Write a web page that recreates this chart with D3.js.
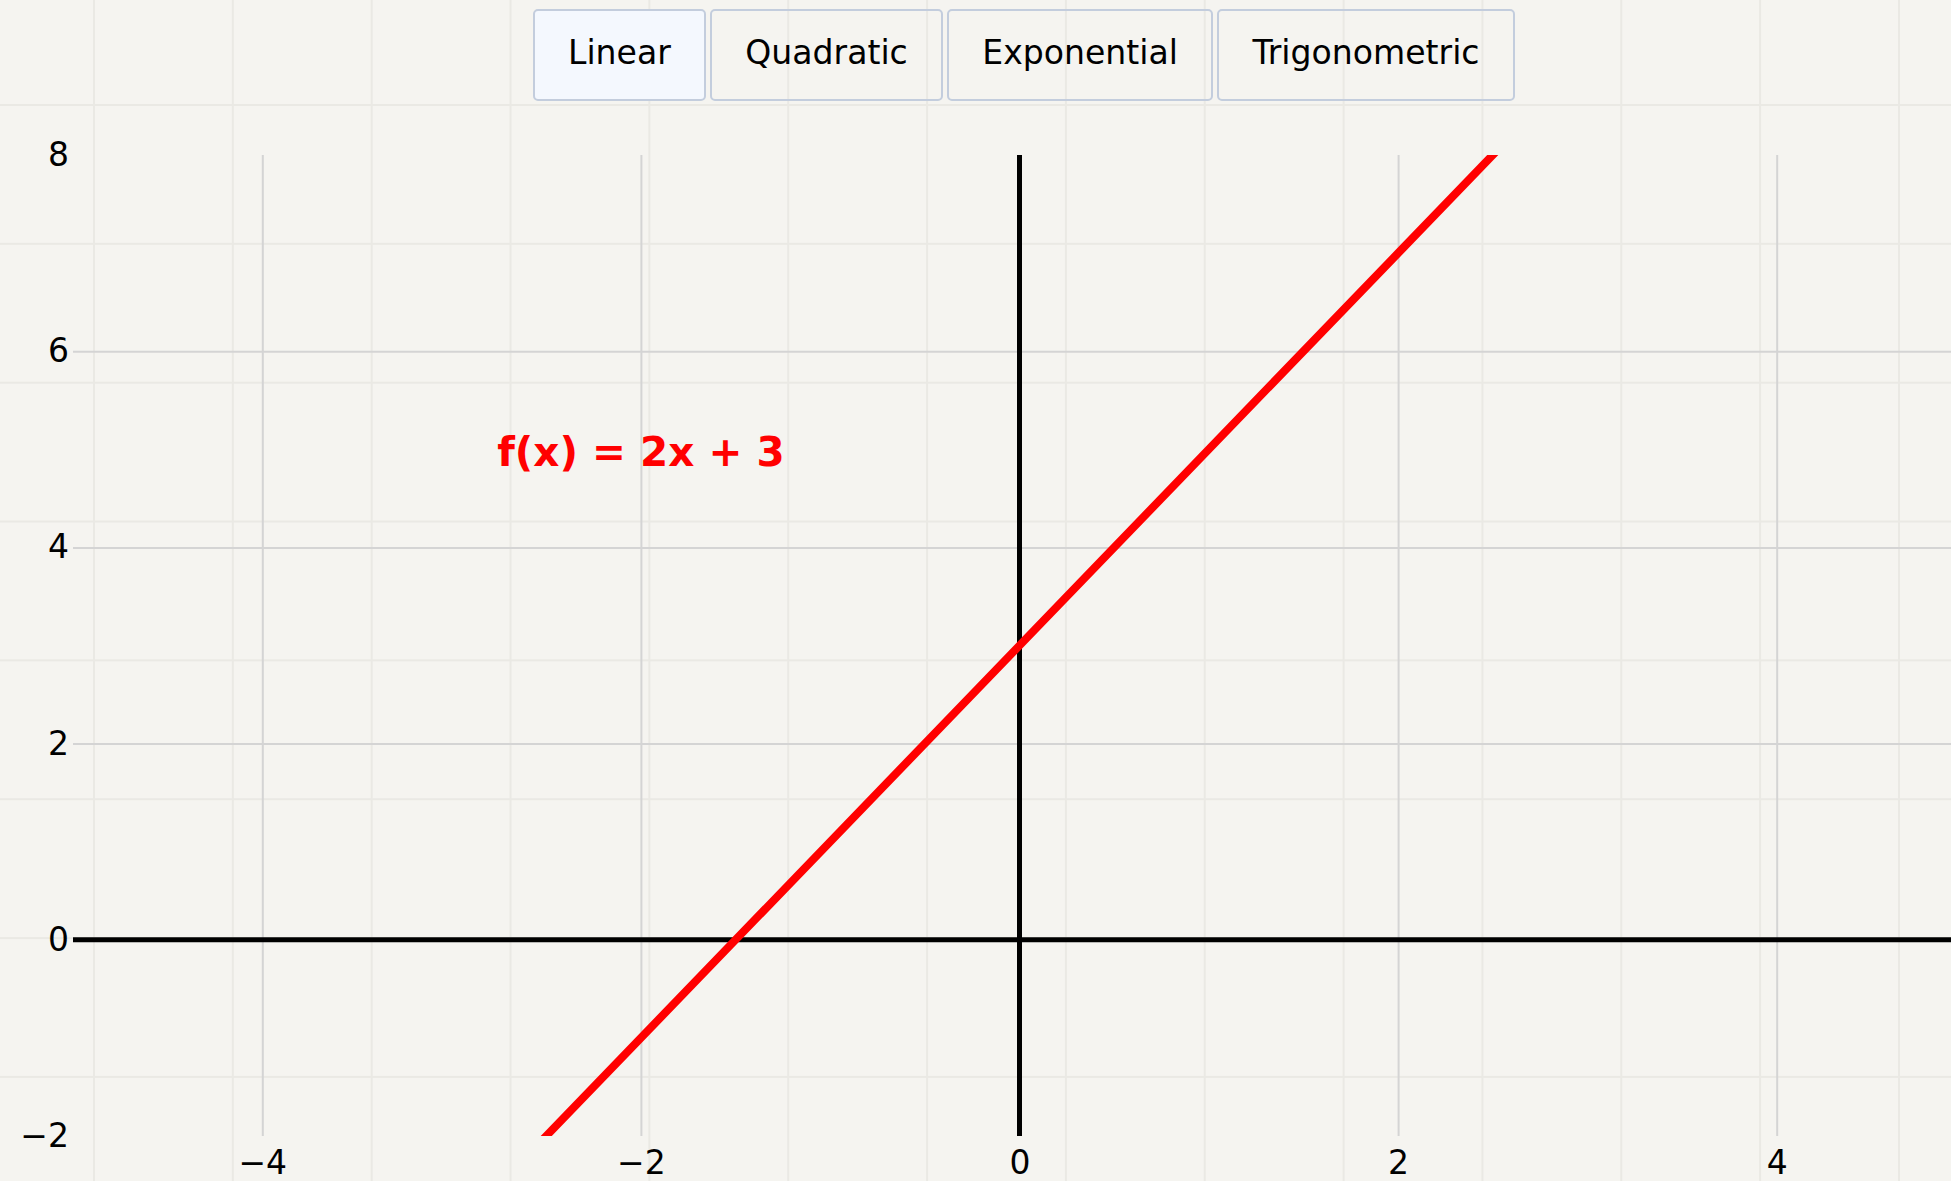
<!DOCTYPE html>
<html>
<head>
<meta charset="utf-8">
<script src="https://cdn.jsdelivr.net/npm/d3@7"></script>
<style>
	html, body {
		margin: 0;
		padding: 0;
		width: 1951px;
		height: 1181px;
		overflow: hidden;
		font-family: "DejaVu Sans", Verdana, sans-serif;
		background-color: #f5f4f0;
		background-image:
			linear-gradient(to right, #eae9e4 2px, transparent 2px),
			linear-gradient(to bottom, #eae9e4 2px, transparent 2px);
		background-size: 138.85px 138.85px;
		background-position: 93px 104px;
	}
	#controls {
		position: absolute;
		left: 533px;
		top: 9px;
		display: flex;
		gap: 4.5px;
		z-index: 2;
	}
	#controls button {
		font-family: "DejaVu Sans", Verdana, sans-serif;
		font-size: 33.1px;
		line-height: 38px;
		padding: 22.5px 33px 27.5px 33px;
		color: #000;
		background: transparent;
		border: 2px solid #c3cddd;
		border-radius: 5px;
		cursor: pointer;
	}
	#controls button.active {
		background: #f4f8fe;
	}
	#chart {
		position: absolute;
		left: 0;
		top: 0;
	}
</style>
</head>
<body>
<div id="controls"></div>
<svg id="chart"></svg>
<script>
const functionNames = ["Linear", "Quadratic", "Exponential", "Trigonometric"];
const activeFunction = "Linear";
const formulaLabel = "f(x) = 2x + 3";

// axis domains and ticks
const xDomain = [-5, 5];
const yDomain = [-2, 8];
const xTicks = [-4, -2, 0, 2, 4];
const yTicks = [-2, 0, 2, 4, 6, 8];

// points (runs past the plot edges, clipped)
const lineX = [-2.6, -1.5, 0, 2, 2.6];
const lineY = [-2.2, 0, 3, 7, 8.2];

// where the formula label sits, in data units
const labelX = -2;
const labelY = 5;

const width = 1951;
const height = 1181;

d3.select("#controls").selectAll("button")
	.data(functionNames)
	.enter().append("button")
	.attr("class", d => d === activeFunction ? "active" : null)
	.text(d => d);

const svg = d3.select("#chart")
	.attr("width", width)
	.attr("height", height);

const x = d3.scaleLinear().domain(xDomain).range([73, 1966]);
const y = d3.scaleLinear().domain(yDomain).range([1136, 155]);

svg.append("defs").append("clipPath")
	.attr("id", "plot-clip")
	.append("rect")
	.attr("x", x(xDomain[0]))
	.attr("y", y(yDomain[1]))
	.attr("width", x(xDomain[1]) - x(xDomain[0]))
	.attr("height", y(yDomain[0]) - y(yDomain[1]));

// x axis at the bottom, ticks used as vertical grid lines
const xAxis = svg.append("g")
	.attr("transform", `translate(0, ${y(yDomain[0])})`)
	.call(d3.axisBottom(x)
		.tickValues(xTicks)
		.tickSize(-(y(yDomain[0]) - y(yDomain[1])))
		.tickPadding(15));

// y axis on the left, ticks used as horizontal grid lines
const yAxis = svg.append("g")
	.attr("transform", `translate(${x(xDomain[0])}, 0)`)
	.call(d3.axisLeft(y)
		.tickValues(yTicks)
		.tickSize(-(x(xDomain[1]) - x(xDomain[0])))
		.tickPadding(4));

[xAxis, yAxis].forEach(axis => {
	axis.select(".domain").remove();
	axis.selectAll("line")
		.attr("stroke", "#d4d4d4")
		.attr("stroke-width", 2);
	axis.selectAll("text")
		.attr("fill", "#000")
		.style("font-family", "'DejaVu Sans', Verdana, sans-serif")
		.style("font-size", "33px");
});

// no grid line at the top and bottom of the y range
yAxis.selectAll(".tick")
	.filter(d => d === yDomain[0] || d === yDomain[1])
	.select("line").remove();

// main axes through the origin
svg.append("line")
	.attr("x1", x(xDomain[0]))
	.attr("x2", x(xDomain[1]))
	.attr("y1", y(0))
	.attr("y2", y(0))
	.attr("stroke", "#000")
	.attr("stroke-width", 5);

svg.append("line")
	.attr("x1", x(0))
	.attr("x2", x(0))
	.attr("y1", y(yDomain[0]))
	.attr("y2", y(yDomain[1]))
	.attr("stroke", "#000")
	.attr("stroke-width", 5);

const points = lineX.map((d, i) => [d, lineY[i]]);

const line = d3.line()
	.x(d => x(d[0]))
	.y(d => y(d[1]));

svg.append("path")
	.datum(points)
	.attr("clip-path", "url(#plot-clip)")
	.attr("d", line)
	.attr("fill", "none")
	.attr("stroke", "#ff0000")
	.attr("stroke-width", 8);

svg.append("text")
	.attr("x", x(labelX))
	.attr("y", y(labelY))
	.attr("dy", "0.4em")
	.attr("text-anchor", "middle")
	.attr("fill", "#ff0000")
	.style("font-family", "'DejaVu Sans', Verdana, sans-serif")
	.style("font-size", "40.5px")
	.style("font-weight", "bold")
	.text(formulaLabel);
</script>
</body>
</html>
